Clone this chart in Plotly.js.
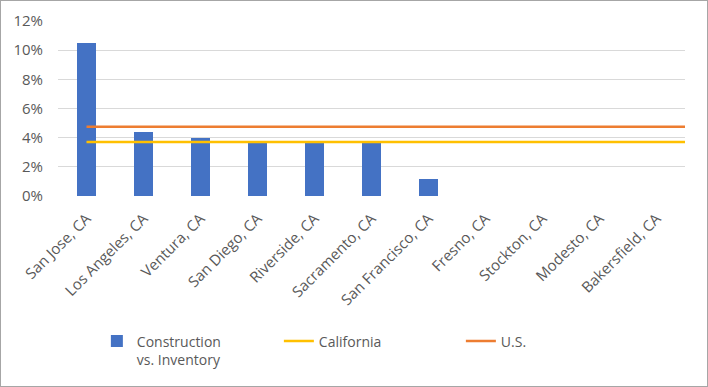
<!DOCTYPE html>
<html><head><meta charset="utf-8">
<script src="https://cdn.plot.ly/plotly-3.0.1.min.js"></script>
<style>html,body{margin:0;padding:0;background:#fff}#c{width:706px;height:385px;border:1px solid #A6A6A6}</style>
</head><body><div id="c"></div>
<script>
const categories = ["San Jose, CA","Los Angeles, CA","Ventura, CA","San Diego, CA","Riverside, CA","Sacramento, CA","San Francisco, CA","Fresno, CA","Stockton, CA","Modesto, CA","Bakersfield, CA"];
const constructionVsInventory = [0.105,0.0436,0.0397,0.0363,0.0363,0.0363,0.0116,0,0,0,0];
const california = [0.037,0.037,0.037,0.037,0.037,0.037,0.037,0.037,0.037,0.037,0.037];
const us = [0.0475,0.0475,0.0475,0.0475,0.0475,0.0475,0.0475,0.0475,0.0475,0.0475,0.0475];
const yTicks = [0,0.02,0.04,0.06,0.08,0.10,0.12];
const yTickText = ["0%","2%","4%","6%","8%","10%","12%"];

const fam = "Open Sans, Liberation Sans, sans-serif";
const axisFont = {family:fam, size:15, color:"#595959"};
const legendFont = {family:fam, size:14, color:"#595959"};
const idx = categories.map((_,i)=>i);
const traces = [
  {type:"bar", x:categories, y:constructionVsInventory, name:"Construction<br>vs. Inventory",
   marker:{color:"#4472C4", line:{width:0}}, width:0.32},
  {type:"scatter", mode:"lines", x:idx, y:california, name:"California", xaxis:"x2",
   line:{color:"#FFC000", width:2.5}},
  {type:"scatter", mode:"lines", x:idx, y:us, name:"U.S.", xaxis:"x2",
   line:{color:"#ED7D31", width:2.5}}
];
const layout = {
  width:706, height:385,
  margin:{l:57, r:22, t:20, b:189},
  paper_bgcolor:"#fff", plot_bgcolor:"#fff",
  font:axisFont,
  showlegend:true,
  bargap:0,
  xaxis:{type:"category", range:[-0.5,10.5], tickangle:-45, tickfont:axisFont,
         showgrid:false, zeroline:false, showline:false, ticks:"outside", ticklen:7, tickcolor:"rgba(0,0,0,0)"},
  xaxis2:{overlaying:"x", range:[-0.5*10/10.5, 10], visible:false, showgrid:false, zeroline:false},
  yaxis:{range:[0,0.12], tickvals:yTicks, ticktext:yTickText, tickfont:axisFont,
         showgrid:true, gridcolor:"#D9D9D9", gridwidth:1, zeroline:false, showline:false,
         ticks:"outside", ticklen:11, tickcolor:"rgba(0,0,0,0)"},
  legend:{orientation:"h", x:0.062, xanchor:"left", y:-0.73, yanchor:"top", valign:"top",
          font:legendFont, entrywidth:137, traceorder:"normal", bgcolor:"rgba(0,0,0,0)"}
};
Plotly.newPlot("c", traces, layout, {displayModeBar:false, staticPlot:true});
</script></body></html>
